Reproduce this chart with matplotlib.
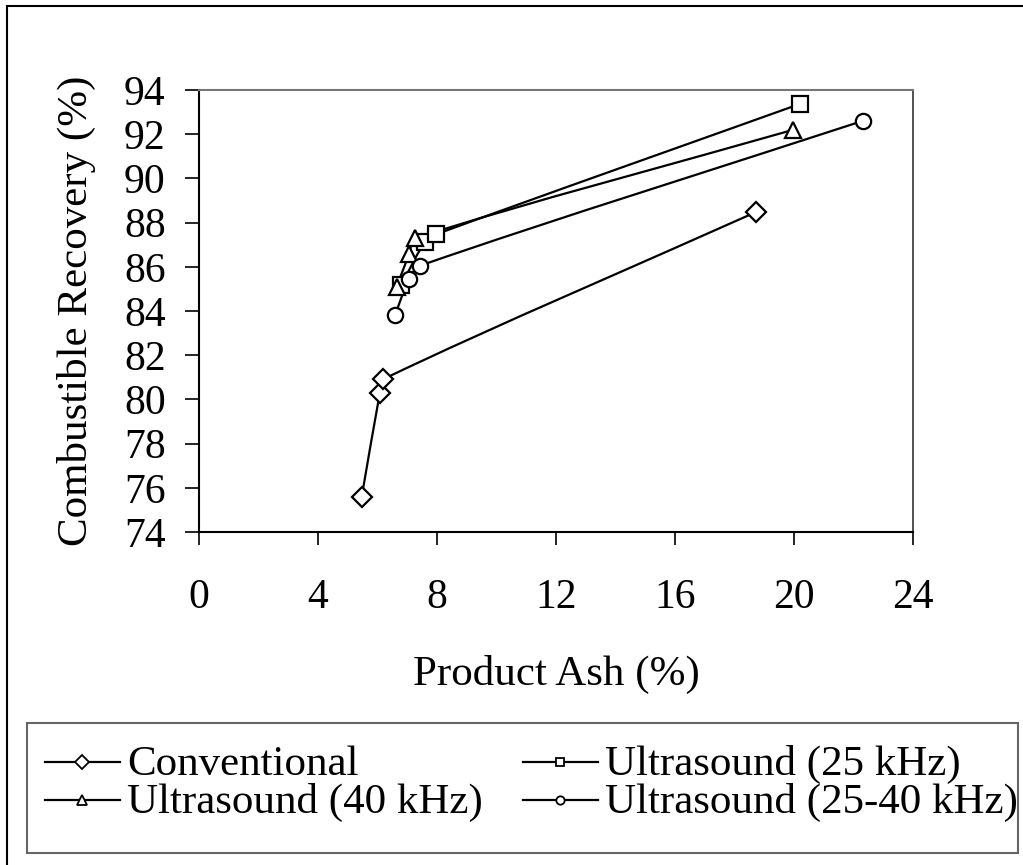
import matplotlib
matplotlib.use("Agg")
import matplotlib.pyplot as plt
from matplotlib.path import Path
from matplotlib.patches import PathPatch, Rectangle
from matplotlib.lines import Line2D
import numpy as np

plt.rcParams['font.family'] = ['Liberation Serif', 'DejaVu Serif']

# Data
conv_x = [5.47, 6.08, 6.20, 18.71]
conv_y = [75.6, 80.3, 80.92, 88.47]
us25_x = [6.80, 7.60, 7.97, 20.20]
us25_y = [85.18, 87.14, 87.47, 93.37]
us40_x = [6.64, 7.07, 7.26, 19.95]
us40_y = [85.10, 86.60, 87.29, 92.19]
us2540_x = [6.59, 7.06, 7.43, 22.33]
us2540_y = [83.82, 85.45, 86.05, 92.61]

series_names = ["Conventional", "Ultrasound (25 kHz)",
                "Ultrasound (40 kHz)", "Ultrasound (25-40 kHz)"]
series = [
    (conv_x, conv_y, "D"),
    (us25_x, us25_y, "s"),
    (us40_x, us40_y, "^"),
    (us2540_x, us2540_y, "o"),
]
msize = {"D": 10, "s": 11, "^": 11, "o": 11}
lsize = {"D": 7, "s": 6, "^": 7, "o": 6}

xticks = [0, 4, 8, 12, 16, 20, 24]
yticks = [74, 76, 78, 80, 82, 84, 86, 88, 90, 92, 94]

W, H = 1023, 865
fig = plt.figure(figsize=(W / 100, H / 100), dpi=100)
fig.patch.set_facecolor("white")


def fx(x):
    return x / W


def fy(y):
    return 1 - y / H


# outer border
fig.patches.append(Rectangle((fx(7), fy(6) - 2), 2, 2, transform=fig.transFigure,
                             fill=False, edgecolor="black", linewidth=1.5))

ax = fig.add_axes([fx(199), fy(532), (913 - 199) / W, (532 - 90) / H])
ax.set_xlim(0, 24)
ax.set_ylim(74, 94)


def smooth_path(xs, ys):
    pts = ax.transData.transform(np.column_stack([xs, ys]).astype(float))
    n = len(pts)
    tang = []
    for i in range(n):
        a = pts[max(i - 1, 0)]
        b = pts[min(i + 1, n - 1)]
        d = b - a
        tang.append(d / np.hypot(*d))
    verts = [pts[0]]
    codes = [Path.MOVETO]
    for i in range(n - 1):
        p1, p2 = pts[i], pts[i + 1]
        L = np.hypot(*(p2 - p1))
        c1 = p1 + tang[i] * L * 0.3
        c2 = p2 - tang[i + 1] * L * 0.3
        verts += [c1, c2, p2]
        codes += [Path.CURVE4] * 3
    verts = ax.transData.inverted().transform(np.array(verts))
    return Path(verts, codes)


for xs, ys, m in series:
    ax.add_patch(PathPatch(smooth_path(xs, ys), fill=False, edgecolor="black",
                           linewidth=1.6, zorder=2))
    ax.plot(xs, ys, linestyle="none", marker=m, markersize=msize[m],
            markerfacecolor="white", markeredgecolor="black", markeredgewidth=1.6,
            zorder=3)

ax.set_xticks(xticks)
ax.set_yticks(yticks)
ax.tick_params(axis="both", direction="out", width=1.2, labelsize=30, color="black")
ax.tick_params(axis="x", length=9.5, pad=24)
ax.tick_params(axis="y", length=10, pad=14)
for s in ["left", "bottom"]:
    ax.spines[s].set_linewidth(1.5)
    ax.spines[s].set_color("black")
ax.spines["top"].set_color("#777777")
ax.spines["top"].set_linewidth(1.5)
ax.spines["right"].set_color("#333333")
ax.spines["right"].set_linewidth(1.2)

ax.set_xlabel("Product Ash (%)", fontsize=31, labelpad=27)
ax.set_ylabel("Combustible Recovery (%)", fontsize=31, labelpad=20)

# Legend (drawn manually to match layout)
fig.patches.append(Rectangle((fx(27), fy(853)), (1018 - 27) / W, (853 - 723) / H,
                             transform=fig.transFigure, fill=False,
                             edgecolor="#666666", linewidth=1.5))
leg_pos = [(45, 762), (523, 762), (45, 800), (523, 800)]
for (x0, yy), name, (_, _, m) in zip(leg_pos, series_names, series):
    fig.add_artist(Line2D([fx(x0), fx(x0 + 37), fx(x0 + 75)], [fy(yy)] * 3,
                          transform=fig.transFigure, color="black", linewidth=1.6,
                          marker=m, markevery=[1], markersize=lsize[m],
                          markerfacecolor="white", markeredgecolor="black",
                          markeredgewidth=1.3))
    fig.text(fx(x0 + 82), fy(yy + 13), name, fontsize=31, ha="left", va="baseline")

fig.savefig("out.png", dpi=100, facecolor="white")
